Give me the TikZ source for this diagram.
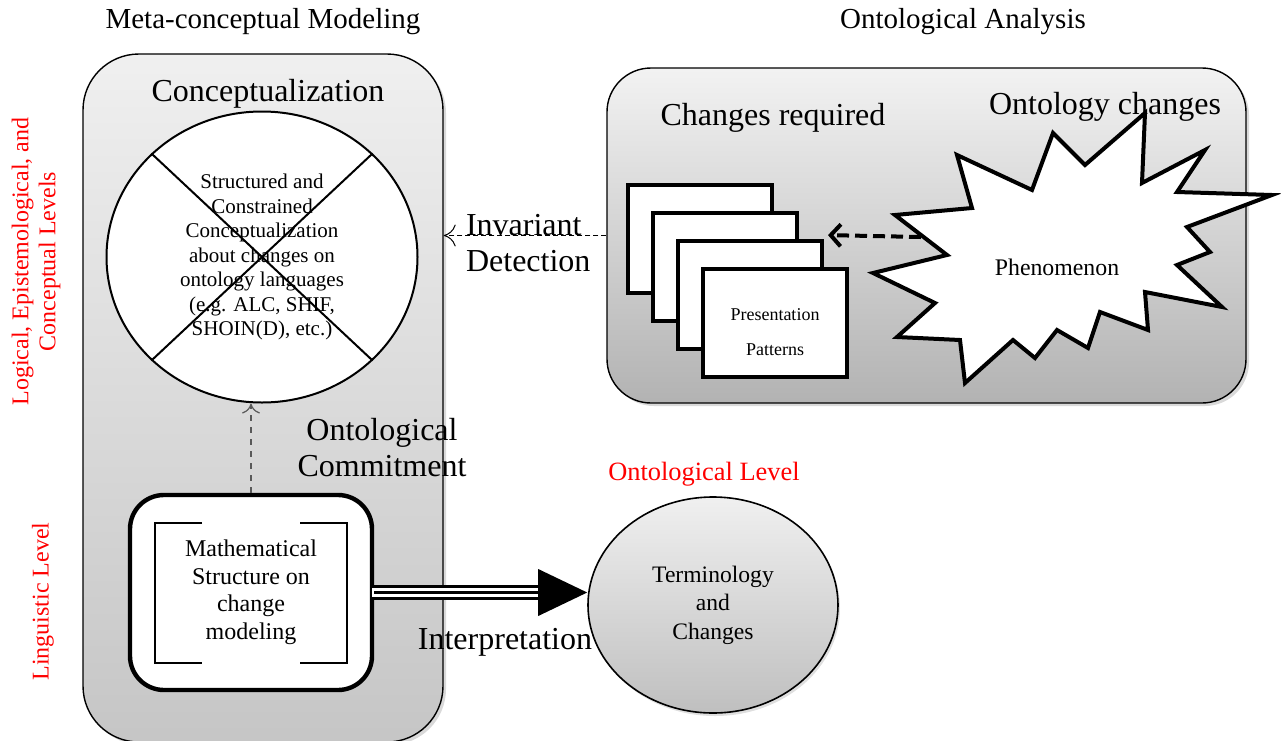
\documentclass[tikz,border=0pt]{standalone}
\usepackage{fontspec}
\setmainfont{Liberation Serif}
\usetikzlibrary{shapes.geometric,shadows,arrows.meta}

\begin{document}
\begin{tikzpicture}[x=0.5pt,y=-0.5pt,
    panel/.style={draw=black,line width=0.7pt,rounded corners=28pt,
      drop shadow={opacity=0.3,shadow xshift=1.5pt,shadow yshift=-1.5pt}},
    card/.style={draw,line width=2pt,fill=white,minimum width=72pt,minimum height=54pt},
    titletext/.style={font=\fontsize{14.5}{17}\selectfont},
    bigtext/.style={font=\fontsize{16}{18}\selectfont},
    redtext/.style={text=red,font=\fontsize{12}{13.5}\selectfont},
    bodytext/.style={align=center,font=\fontsize{12}{14}\selectfont}]
    \useasboundingbox (0,0) rectangle (1281,740);

    % the two panels
    \node[panel,top color=gray!12,bottom color=gray!45,minimum width=180pt,minimum height=344pt] (metapanel) at (263,398) {};
    \node[panel,rounded corners=22pt,top color=gray!10,bottom color=gray!60,minimum width=319.5pt,minimum height=167.5pt] (ontopanel) at (926.5,235.5) {};

    \node[titletext] (metatitle) at (263,22) {Meta-conceptual Modeling};
    \node[titletext] (ontotitle) at (963,22) {Ontological Analysis};
    \node[bigtext] (concepttitle) at (268,94) {Conceptualization};
    \node[bigtext] (changesreq) at (773,118) {Changes required};
    \node[bigtext] (ontochanges) at (1105,107) {Ontology changes};

    % conceptualization circle
    \node[ellipse,draw,line width=1pt,fill=white,minimum width=155.5pt,minimum height=145.5pt,align=center,
      font=\fontsize{10.5}{12.25}\selectfont] (concept) at (262,257)
      {Structured and\\Constrained\\Conceptualization\\about changes on\\ontology languages\\(e.g. ALC, SHIF,\\SHOIN(D), etc.)};
    \draw[line width=1pt] (concept.north west) -- (concept.south east);
    \draw[line width=1pt] (concept.north east) -- (concept.south west);

    % mathematical structure
    \node[draw,line width=2.2pt,rounded corners=17pt,fill=white,minimum width=121pt,minimum height=97.5pt,
      bodytext,font=\fontsize{12}{13.75}\selectfont] (math) at (251,592.5)
      {Mathematical\\Structure on\\change\\modeling};
    \draw[line width=0.8pt] (202,523) -- (155,523) -- (155,663) -- (202,663);
    \draw[line width=0.8pt] (300,523) -- (347,523) -- (347,663) -- (300,663);

    \draw[gray!70!black,dashed,line width=0.6pt,-{To[length=5pt,width=9pt]}] (math.north) -- (math.north |- concept.south);
    \node[bigtext,align=center] (commit) at (382,448) {Ontological\\Commitment};

    % terminology
    \node[ellipse,draw,line width=0.8pt,top color=gray!12,bottom color=gray!50,minimum width=125pt,minimum height=108pt,
      bodytext,font=\fontsize{11.8}{14.2}\selectfont,
      drop shadow={opacity=0.25,shadow xshift=1pt,shadow yshift=-1.5pt}] (term) at (713,605)
      {Terminology\\and\\Changes};
    \node[redtext,font=\fontsize{13.2}{15}\selectfont] (ontolevel) at (704,474) {Ontological Level};

    \draw[line width=7.4pt] (math.east) -- ([xshift=-24pt]term.west |- math.east);
    \draw[white,line width=4.6pt] ([xshift=-1pt]math.east) -- ([xshift=-23pt]term.west |- math.east);
    \draw[line width=1.35pt] (math.east) -- ([xshift=-24pt]term.west |- math.east);
    \fill (term.west |- math.east) -- ++(-49,-23.5) -- ++(0,47) -- cycle;
    \node[bigtext] (interp) at (505,642) {Interpretation};

    % invariant detection
    \draw[dashed,line width=0.5pt,dash pattern=on 2.5pt off 1.5pt,-{To[length=6pt,width=11pt]}] (ontopanel.west) -- (metapanel.east |- ontopanel.west);
    \node[bigtext,align=left,anchor=west] (invariant) at (459,243) {Invariant\\Detection};

    % presentation patterns
    \foreach \i in {1,...,4}
      \node[card] (card\i) at ({700+25*(\i-1)},{238.5+28.3*(\i-1)}) {};
    \node[align=center,font=\fontsize{9}{17.5}\selectfont] (patterns) at ([yshift=-4.5pt]card4.center) {Presentation\\Patterns};

    % phenomenon
    \draw[line width=2pt,fill=white,line join=miter] (1145,113) -- (1142,183) -- (1205,150) -- (1177,192)
      -- (1272,195) -- (1187,227) -- (1210,252) -- (1177,265) -- (1222,307) -- (1145,292)
      -- (1148,330) -- (1100,312) -- (1088,348) -- (1057,330) -- (1035,358) -- (1013,340)
      -- (965,383) -- (960,340) -- (897,337) -- (935,303) -- (873,273) -- (947,255)
      -- (895,215) -- (972,208) -- (957,155) -- (1032,190) -- (1053,133) -- (1085,165) -- cycle;
    \node[font=\fontsize{11.9}{14}\selectfont] (phen) at (1057,267) {Phenomenon};
    \coordinate (burstleft) at (921,237);
    \draw[line width=2pt,dash pattern=on 6pt off 3pt,-{Straight Barb[length=5pt,width=11pt]}] (burstleft) -- ([yshift=2pt,xshift=2pt]card3.north east);

    % levels
    \node[redtext,rotate=90,align=center] (loglevels) at (36,261.5) {Logical, Epistemological, and\\Conceptual Levels};
    \node[redtext,rotate=90] (linglevel) at (43,601.5) {Linguistic Level};
\end{tikzpicture}
\end{document}
